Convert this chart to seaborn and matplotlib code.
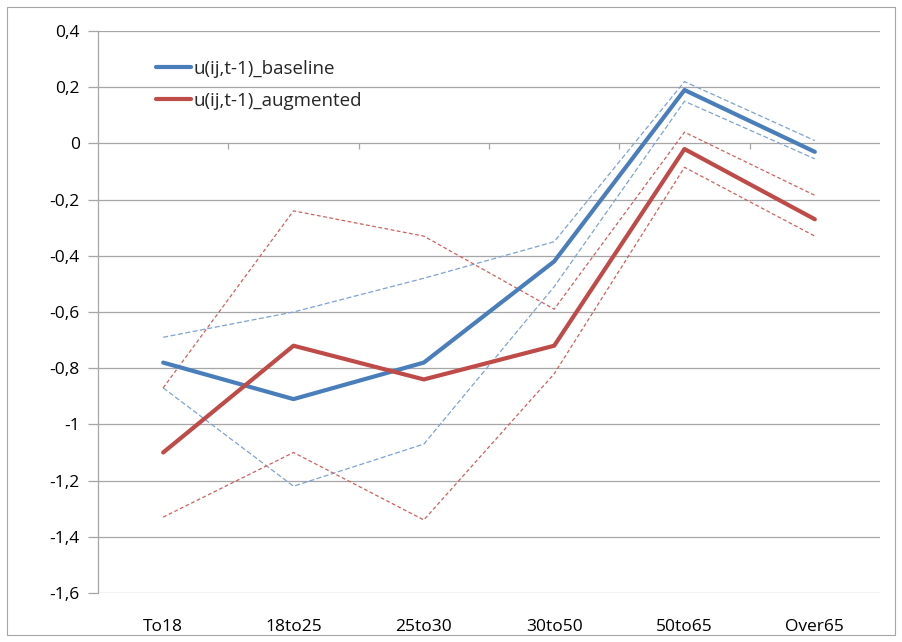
import matplotlib
matplotlib.use("Agg")
import matplotlib.pyplot as plt
import matplotlib.ticker as mticker
from matplotlib.patches import Rectangle
import seaborn as sns
import pandas as pd

categories = ["To18", "18to25", "25to30", "30to50", "50to65", "Over65"]
baseline = [-0.78, -0.91, -0.78, -0.42, 0.19, -0.03]
baseline_upper = [-0.69, -0.60, -0.48, -0.35, 0.22, 0.01]
baseline_lower = [-0.87, -1.22, -1.07, -0.51, 0.15, -0.055]
augmented = [-1.10, -0.72, -0.84, -0.72, -0.02, -0.27]
augmented_upper = [-0.87, -0.24, -0.33, -0.59, 0.04, -0.185]
augmented_lower = [-1.33, -1.10, -1.34, -0.82, -0.085, -0.33]
yticks = [0.4, 0.2, 0, -0.2, -0.4, -0.6, -0.8, -1, -1.2, -1.4, -1.6]

sns.set_style("white")
plt.rcParams['font.family'] = ['Open Sans', 'DejaVu Sans']

BLUE = "#4A7EBB"
RED = "#BE4B48"
BLUE_L = "#7FA3D2"
RED_L = "#D0605C"
GRID = "#A6A6A6"

fig = plt.figure(figsize=(9.02, 6.42), dpi=100)
ax = fig.add_axes([98/902, (642-593)/642, (880-98)/902, (593-31)/642])

fig.patches.append(Rectangle((7/902, 7/642), (895-7)/902, (635-7)/642,
                             transform=fig.transFigure, fill=False,
                             edgecolor=GRID, linewidth=0.8))

def df(vals):
    return pd.DataFrame({"cat": categories, "v": vals})

for vals, c in [(baseline_upper, BLUE_L), (baseline_lower, BLUE_L)]:
    sns.lineplot(data=df(vals), x="cat", y="v", ax=ax, color=c, linewidth=0.9,
                 linestyle=(0, (4, 2)), sort=False)
for vals, c in [(augmented_upper, RED_L), (augmented_lower, RED_L)]:
    sns.lineplot(data=df(vals), x="cat", y="v", ax=ax, color=c, linewidth=0.9,
                 linestyle=(0, (3, 2)), sort=False)

sns.lineplot(data=df(baseline), x="cat", y="v", ax=ax, color=BLUE, linewidth=3,
             sort=False, label="u(ij,t-1)_baseline")
sns.lineplot(data=df(augmented), x="cat", y="v", ax=ax, color=RED, linewidth=3,
             sort=False, label="u(ij,t-1)_augmented")

ax.set_xlim(-0.5, len(categories) - 0.5)
ax.set_ylim(-1.6, 0.4)
ax.set_yticks(yticks)
ax.yaxis.set_major_formatter(mticker.FuncFormatter(
    lambda v, p: ("%g" % round(v, 1)).replace(".", ",")))
ax.grid(axis="y", color=GRID, linewidth=0.9)
ax.set_axisbelow(True)
ax.set_xlabel("")
ax.set_ylabel("")
for s in ["top", "right", "bottom"]:
    ax.spines[s].set_visible(False)
ax.spines["left"].set_color(GRID)
ax.spines["left"].set_linewidth(0.9)
ax.tick_params(axis="y", length=7, width=0.9, color=GRID, labelsize=12.5,
               pad=6, labelcolor="#000000", direction="out", left=True)
ax.tick_params(axis="x", length=0, labelsize=12.5, pad=19, labelcolor="#000000")

# category-boundary tick marks on the horizontal axis (which crosses at 0)
boundaries = [i + 0.5 for i in range(len(categories) - 1)]
ax.vlines(boundaries, 0, -0.02, colors=GRID, linewidth=0.9, zorder=1)

leg = ax.legend(loc="upper left", bbox_to_anchor=(0.064, 0.962), frameon=False,
                fontsize=13.5, handlelength=1.9, handletextpad=0.1,
                labelspacing=0.75, borderaxespad=0)

fig.savefig("out.png", dpi=100)
